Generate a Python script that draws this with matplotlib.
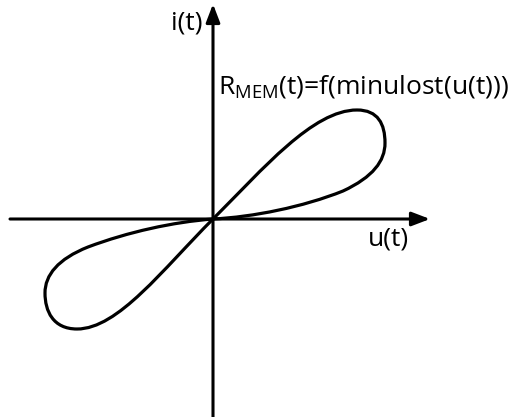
import matplotlib.pyplot as plt
from matplotlib.path import Path
from matplotlib.patches import PathPatch, FancyArrowPatch

plt.rcParams['font.family'] = ['Open Sans', 'DejaVu Sans']
plt.rcParams['mathtext.fontset'] = 'custom'
plt.rcParams['mathtext.rm'] = 'Open Sans'

# pinched hysteresis loop, cubic bezier control points (u, i)
upper_u = [0, 50, 100, 144, 165, 172, 172, 172, 160, 130, 90, 40, 0]
upper_i = [0, 50, 109, 109, 109, 95, 76, 58, 42, 28, 12, 2, 0]
lower_u = [0, -50, -95, -136, -160, -168, -168, -168, -155, -125, -85, -40, 0]
lower_i = [0, -50, -110, -110, -110, -92, -74, -56, -40, -28, -13, -3, 0]

label_i = 'i(t)'
label_u = 'u(t)'
label_r = r'R$_{\mathregular{MEM}}$(t)=f(minulost(u(t)))'

fig = plt.figure(figsize=(5.15, 4.17), dpi=100)
ax = fig.add_axes([0, 0, 1, 1])
ax.set_xlim(-213, 302)
ax.set_ylim(-198, 219)
ax.axis('off')

# axes with arrow heads
for start, end in [((-203, 0), (217, 0)), ((0, -200), (0, 215))]:
    ax.add_patch(FancyArrowPatch(start, end, arrowstyle='-|>,head_length=11,head_width=4.2',
                                 mutation_scale=1, lw=2.2, color='black', shrinkA=0, shrinkB=0))

codes = [Path.MOVETO] + [Path.CURVE4] * 12
for us, vs in [(upper_u, upper_i), (lower_u, lower_i)]:
    path = Path(list(zip(us, vs)), codes)
    ax.add_patch(PathPatch(path, fill=False, lw=2.3, edgecolor='black', capstyle='round'))

ax.text(-26, 196, label_i, fontsize=19, ha='center', va='center')
ax.text(175, -20, label_u, fontsize=19, ha='center', va='center')
ax.text(5, 132, label_r, fontsize=19, ha='left', va='center')

fig.savefig('out.png', dpi=100)
